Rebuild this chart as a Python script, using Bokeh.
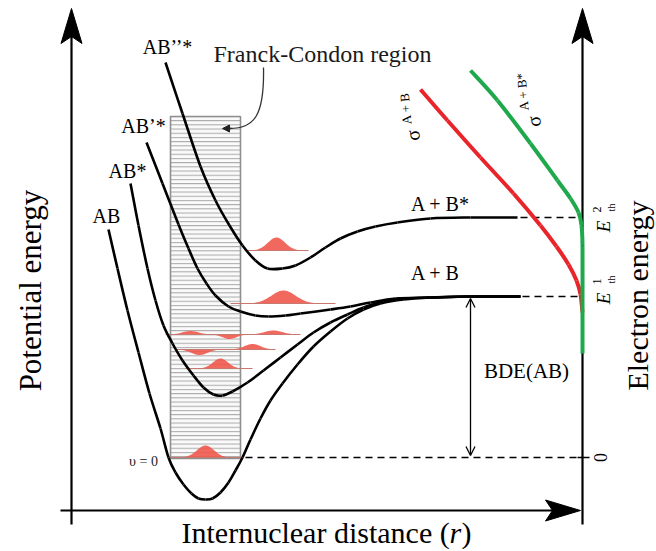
import numpy as np
from bokeh.plotting import figure
from bokeh.models import Range1d, ColumnDataSource, Arrow, OpenHead, NormalHead
from bokeh.core.properties import value
from bokeh.embed import file_html
from bokeh.resources import INLINE

W, H = 656, 551
SERIF = value("Liberation Serif")

# ---------------- data (r = internuclear distance, E = energy; picture units) -------------
AB_r = [108, 117, 127, 138, 149, 160, 168, 175, 183, 191, 198, 205, 212, 220, 228, 235, 242,
        250, 260, 270, 282, 297, 313, 330, 347, 363, 380, 403, 430, 470, 520]
AB_E = [322, 283, 241, 199, 158, 123, 94, 79, 67, 58, 53, 52, 53, 59, 69, 81, 94,
        112, 133, 151, 168, 187, 205, 220, 233, 242, 248, 252, 254, 255, 255]

ABs_r = [130, 138, 147, 155, 163, 172, 182, 193, 203, 213, 222, 232, 247, 263, 280, 297, 313,
         330, 347, 363, 383, 405, 430, 470, 520]
ABs_E = [368, 326, 283, 251, 226, 208, 191, 176, 164, 157, 156, 160, 169, 181, 194, 207, 219,
         229, 237, 244, 250, 253, 254, 255, 255]

ABp_r = [146, 162, 178, 188, 197, 206, 215, 228, 240, 255, 268, 285, 300, 330, 350, 370, 395, 430, 470, 520]
ABp_E = [409, 368, 327, 303, 283, 268, 256, 245, 240, 236, 235, 236, 238, 242, 245, 249, 253, 254, 255, 255]

ABpp_r = [165, 182, 200, 215, 229, 242, 255, 267, 282, 295, 310, 325, 340, 357, 375, 397, 430, 470, 517]
ABpp_E = [489, 438, 385, 351, 326, 306, 291, 283, 283, 286, 294, 304, 313, 320, 325, 329, 333, 334, 334]

# cross sections (right panel)
sigAB_r = [420, 447, 480, 513, 540, 556, 568, 576, 580, 582]
sigAB_E = [462, 431, 394, 358, 326, 305, 287, 271, 257, 239]
sigABs_r = [470, 497, 530, 557, 570, 578, 581, 582, 582, 582]
sigABs_E = [481, 451, 408, 371, 353, 339, 326, 306, 251, 198]

# energy levels
E_v0 = 94        # v = 0
E_th1 = 255      # A + B   (E1_th)
E_th2 = 334      # A + B*  (E2_th)

# Franck-Condon region
fc_left, fc_right, fc_bottom, fc_top = 170, 240, 93, 435

# vibrational wave packets: baseline, r-start, r-end, humps (centre, amplitude, width)
packets = [
    (301, 245, 308, [(276, 13, 8.5)]),
    (248, 230, 335, [(283, 13, 12)]),
    (217, 165, 300, [(190, 3.5, 8), (229, -4.5, 7), (273, 4, 9)]),
    (202, 175, 275, [(199, -5.5, 8), (252, 5.5, 8)]),
    (183, 185, 252, [(220, 10, 7.5)]),
    (94, 170, 242, [(205, 12, 8.5)]),
]

# axes geometry
ax_left_x, ax_right_x, ax_bottom_E = 71, 582, 41
ax_top_E, ax_low_E = 543, 27
ax_bottom_x0, ax_bottom_x1 = 60, 580


def cr_bezier(xs, ys):
    """Smooth curve through the read points (Catmull-Rom -> cubic Bezier)."""
    P = np.column_stack([xs, ys]).astype(float)
    n = len(P)
    d = dict(x0=[], y0=[], x1=[], y1=[], cx0=[], cy0=[], cx1=[], cy1=[])
    for i in range(n - 1):
        p0, p1, p2, p3 = P[max(i - 1, 0)], P[i], P[i + 1], P[min(i + 2, n - 1)]
        c1 = p1 + (p2 - p0) / 6.0
        c2 = p2 - (p3 - p1) / 6.0
        d["x0"].append(p1[0]); d["y0"].append(p1[1])
        d["x1"].append(p2[0]); d["y1"].append(p2[1])
        d["cx0"].append(c1[0]); d["cy0"].append(c1[1])
        d["cx1"].append(c2[0]); d["cy1"].append(c2[1])
    return ColumnDataSource(d)


def head(tx, ty, dx, dy, length=35, half=10.5, notch=7):
    bx, by = tx - dx * length, ty - dy * length
    nx, ny = -dy, dx
    return ([tx, bx + nx * half, tx - dx * (length - notch), bx - nx * half],
            [ty, by + ny * half, ty - dy * (length - notch), by - ny * half])


p = figure(width=W, height=H, x_range=Range1d(0, W), y_range=Range1d(0, H),
           output_backend="svg", toolbar_location=None, min_border=0,
           x_axis_location=None, y_axis_location=None)
p.grid.visible = False
p.outline_line_color = None
p.background_fill_color = "white"
p.border_fill_color = "white"

# Franck-Condon hatched rectangle
p.quad(left=[fc_left], right=[fc_right], bottom=[fc_bottom], top=[fc_top],
       fill_color="#fafafa", line_color="#8f8f8f", line_width=1.6,
       hatch_pattern="-", hatch_color="#9a9a9a", hatch_scale=4.2, hatch_weight=0.9)

# dashed levels
p.segment(x0=[245, 522, 520], y0=[E_v0, E_th1, E_th2],
          x1=[ax_right_x, ax_right_x, ax_right_x], y1=[E_v0, E_th1, E_th2],
          line_color="black", line_width=1.4, line_dash="7 5")
p.segment(x0=[ax_right_x - 5], y0=[E_v0], x1=[ax_right_x + 7], y1=[E_v0],
          line_color="black", line_width=1.5)

# wave packets
for base, x0, x1, humps in packets:
    xs = np.linspace(x0, x1, 120)
    ys = np.full_like(xs, float(base))
    for c, a, s in humps:
        ys = ys + a * np.exp(-0.5 * ((xs - c) / s) ** 2)
    p.varea(x=xs, y1=np.full_like(xs, float(base)), y2=ys, fill_color="#f0594c", fill_alpha=0.9)
    p.line(x=[x0, x1], y=[base, base], line_color="#c8786e", line_width=1.1)

# potential energy curves
for rs, es in [(AB_r, AB_E), (ABs_r, ABs_E), (ABp_r, ABp_E), (ABpp_r, ABpp_E)]:
    p.bezier(x0="x0", y0="y0", x1="x1", y1="y1", cx0="cx0", cy0="cy0", cx1="cx1", cy1="cy1",
             source=cr_bezier(rs, es), line_color="black", line_width=2.6)

# axes
p.segment(x0=[ax_left_x, ax_right_x, ax_bottom_x0], y0=[ax_low_E, ax_low_E, ax_bottom_E],
          x1=[ax_left_x, ax_right_x, ax_bottom_x1 - 20], y1=[ax_top_E - 20, ax_top_E - 20, ax_bottom_E],
          line_color="black", line_width=2.2)

# cross-section curves
p.bezier(x0="x0", y0="y0", x1="x1", y1="y1", cx0="cx0", cy0="cy0", cx1="cx1", cy1="cy1",
         source=cr_bezier(sigAB_r, sigAB_E), line_color="#e8252b", line_width=4)
p.bezier(x0="x0", y0="y0", x1="x1", y1="y1", cx0="cx0", cy0="cy0", cx1="cx1", cy1="cy1",
         source=cr_bezier(sigABs_r, sigABs_E), line_color="#1fa84c", line_width=4)

hx, hy = [], []
for tx, ty, dx, dy in [(ax_left_x, ax_top_E, 0, 1), (ax_right_x, ax_top_E, 0, 1),
                       (ax_bottom_x1, ax_bottom_E, 1, 0)]:
    a, b = head(tx, ty, dx, dy)
    hx.append(a); hy.append(b)
p.patches(xs=hx, ys=hy, fill_color="black", line_color="black", line_width=1)

# BDE arrow
p.add_layout(Arrow(start=OpenHead(size=9, line_width=1.3), end=OpenHead(size=9, line_width=1.3),
                   x_start=470, y_start=E_v0 + 2, x_end=470, y_end=E_th1 - 2,
                   line_width=1.3, line_color="black"))

# Franck-Condon pointer
p.bezier(x0=[263], y0=[484], x1=[229], y1=[423], cx0=[264], cy0=[436], cx1=[254], cy1=[423],
         line_color="#333333", line_width=1.3)
p.add_layout(Arrow(end=NormalHead(size=7, fill_color="#222222", line_color="#222222"),
                   x_start=231, y_start=423, x_end=222, y_end=423, line_width=1.3,
                   line_color="#333333"))


def txt(xs, ys, texts, size, angle=0.0, style="normal", align="center", color="black"):
    p.text(x=xs, y=ys, text=texts, text_font=SERIF, text_font_size=size,
           text_font_style=style, text_align=align, text_baseline="middle",
           angle=angle, text_color=color)


# curve labels
txt([167, 143, 127, 106], [505, 426, 381, 336], ["AB’’*", "AB’*", "AB*", "AB"], "20px")
txt([322], [498], ["Franck-Condon region"], "24px", color="#1a1a1a")
txt([440, 435], [348, 279], ["A + B*", "A + B"], "20px")
txt([526], [181], ["BDE(AB)"], "21px")
txt([143], [90], ["υ = 0"], "14px", color="#222222")

# axis titles
txt([30], [261], ["Potential energy"], "31px", angle=np.pi / 2)
txt([637], [256], ["Electron energy"], "30px", angle=np.pi / 2)
txt([181], [19], ["Internuclear distance ("], "30px", align="left")
txt([449], [19], ["r"], "30px", style="italic", align="left")
txt([461], [19], [")"], "30px", align="left")

# right axis labels
rot = np.pi / 2
txt([603, 603], [325, 253], ["E", "E"], "19px", angle=rot, style="italic")
txt([596, 596], [342, 270], ["2", "1"], "12px", angle=rot)
txt([611, 611], [344, 272], ["th", "th"], "10px", angle=rot)
txt([600], [94], ["0"], "18px", angle=rot)

# cross-section labels
srot = 1.66
txt([412, 533], [416, 430], ["σ", "σ"], "20px", angle=srot)
txt([405, 522], [443, 460], ["A + B", "A + B*"], "13px", angle=srot)

open("out.html", "w").write(file_html(p, INLINE))
